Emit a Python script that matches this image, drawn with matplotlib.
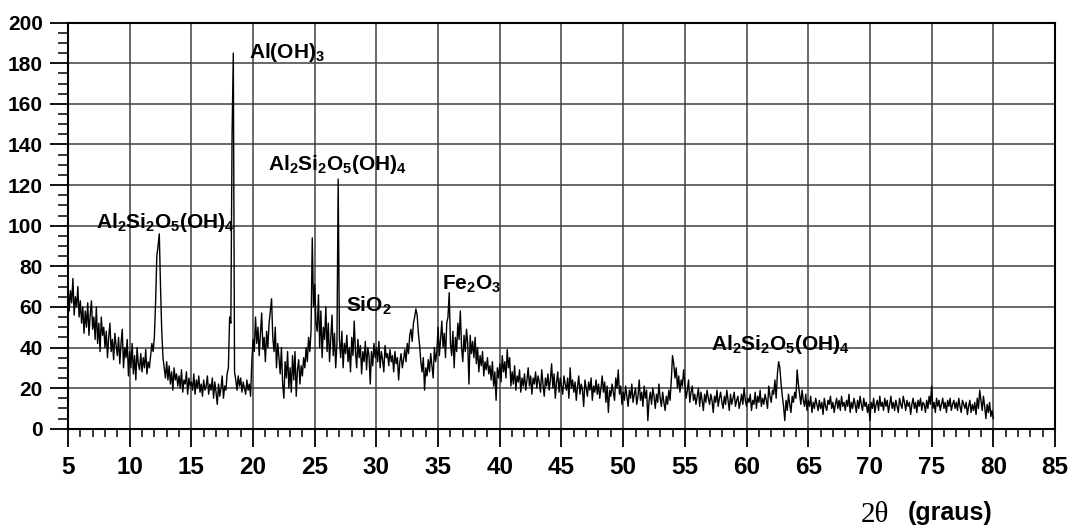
import numpy as np
import matplotlib
matplotlib.use("Agg")
import matplotlib.pyplot as plt
from matplotlib.ticker import MultipleLocator

plt.rcParams['font.family'] = ['Liberation Sans', 'DejaVu Sans']
plt.rcParams['font.weight'] = 'bold'
plt.rcParams['mathtext.fontset'] = 'custom'
plt.rcParams['mathtext.rm'] = 'Liberation Sans'
plt.rcParams['mathtext.bf'] = 'Liberation Sans:bold'

# 2-theta step of the scan (degrees)
two_theta = np.round(np.arange(5.0, 80.05, 0.1), 1)

# intensity, one row per degree (x.0 ... x.9)
intensity = [
    72, 58, 68, 62, 74, 56, 65, 60, 70, 55,   # 5
    63, 52, 60, 47, 58, 50, 62, 46, 56, 63,   # 6
    49, 55, 44, 60, 42, 52, 38, 55, 46, 50,   # 7
    40, 48, 35, 45, 52, 38, 44, 34, 47, 41,   # 8
    36, 45, 32, 42, 49, 30, 40, 35, 44, 26,   # 9
    38, 30, 42, 27, 36, 24, 40, 32, 29, 37,   # 10
    28, 35, 30, 39, 27, 33, 30, 36, 42, 38,   # 11
    45, 62, 85, 90, 96, 70, 48, 35, 30, 25,   # 12
    33, 24, 31, 22, 28, 19, 30, 24, 27, 21,   # 13
    26, 20, 29, 18, 24, 22, 28, 17, 25, 21,   # 14
    23, 19, 27, 17, 24, 20, 26, 18, 22, 16,   # 15
    24, 19, 21, 26, 17, 22, 19, 25, 15, 23,   # 16
    18, 12, 22, 16, 20, 26, 15, 21, 19, 27,   # 17
    30, 55, 52, 145, 185, 28, 24, 19, 26, 21,  # 18
    25, 18, 23, 20, 17, 24, 19, 22, 16, 33,   # 19
    44, 38, 55, 42, 50, 36, 47, 57, 39, 45,   # 20
    33, 48, 40, 52, 58, 64, 45, 38, 50, 30,   # 21
    42, 35, 27, 40, 22, 15, 33, 25, 38, 20,   # 22
    30, 18, 36, 24, 38, 16, 29, 34, 22, 31,   # 23
    26, 35, 30, 40, 33, 45, 38, 48, 94, 60,   # 24
    71, 52, 48, 66, 40, 58, 35, 50, 44, 60,   # 25
    38, 52, 33, 45, 56, 36, 47, 30, 42, 123,  # 26
    44, 35, 48, 30, 42, 37, 46, 33, 40, 28,   # 27
    45, 36, 53, 38, 30, 44, 35, 41, 27, 38,   # 28
    33, 43, 29, 40, 36, 22, 38, 31, 42, 35,   # 29
    40, 33, 43, 30, 38, 34, 28, 41, 35, 37,   # 30
    31, 39, 33, 36, 28, 38, 32, 35, 24, 33,   # 31
    37, 30, 34, 39, 33, 42, 37, 46, 49, 43,   # 32
    52, 55, 59, 56, 47, 41, 33, 28, 35, 19,   # 33
    30, 26, 34, 28, 37, 31, 25, 40, 33, 38,   # 34
    50, 36, 44, 53, 40, 47, 35, 52, 55, 67,   # 35
    42, 36, 48, 30, 45, 38, 52, 44, 58, 40,   # 36
    33, 46, 38, 49, 42, 22, 46, 37, 43, 35,   # 37
    45, 32, 40, 28, 36, 31, 38, 26, 33, 29,   # 38
    35, 27, 31, 24, 33, 21, 28, 14, 30, 25,   # 39
    32, 23, 36, 28, 33, 25, 39, 30, 35, 21,   # 40
    28, 22, 31, 19, 26, 23, 29, 18, 25, 21,   # 41
    27, 19, 24, 30, 21, 26, 17, 25, 22, 28,   # 42
    20, 26, 23, 18, 29, 22, 16, 25, 21, 27,   # 43
    19, 24, 32, 20, 27, 15, 23, 28, 18, 25,   # 44
    21, 17, 26, 22, 19, 25, 15, 30, 20, 24,   # 45
    18, 23, 14, 21, 26, 17, 22, 19, 11, 24,   # 46
    20, 16, 23, 19, 25, 14, 21, 18, 24, 17,   # 47
    22, 15, 20, 26, 18, 23, 13, 21, 8, 19,    # 48
    16, 22, 18, 14, 25, 20, 29, 17, 21, 12,   # 49
    18, 14, 21, 16, 11, 19, 15, 22, 13, 17,   # 50
    20, 12, 16, 24, 14, 18, 11, 21, 15, 19,   # 51
    4, 14, 18, 12, 20, 16, 10, 17, 13, 22,    # 52
    15, 11, 18, 13, 9, 16, 12, 19, 14, 24,    # 53
    36, 32, 25, 30, 20, 26, 18, 24, 21, 29,   # 54
    22, 15, 19, 24, 13, 18, 21, 14, 17, 12,   # 55
    16, 20, 11, 18, 14, 9, 17, 13, 19, 15,    # 56
    12, 17, 14, 8, 16, 13, 19, 11, 15, 18,    # 57
    13, 10, 16, 12, 19, 14, 9, 17, 12, 15,    # 58
    18, 11, 14, 16, 10, 13, 17, 12, 20, 14,   # 59
    11, 15, 13, 17, 9, 14, 12, 18, 10, 16,    # 60
    13, 19, 11, 15, 12, 17, 14, 10, 21, 16,   # 61
    13, 19, 17, 24, 15, 27, 33, 30, 22, 16,   # 62
    11, 4, 14, 9, 17, 12, 8, 16, 13, 18,      # 63
    15, 29, 22, 17, 12, 19, 14, 11, 17, 9,    # 64
    14, 11, 16, 8, 13, 10, 15, 12, 9, 14,     # 65
    10, 13, 7, 15, 11, 9, 14, 12, 16, 10,     # 66
    13, 8, 12, 15, 10, 14, 9, 16, 11, 13,     # 67
    9, 14, 11, 17, 8, 13, 10, 15, 12, 8,      # 68
    14, 10, 16, 12, 9, 15, 11, 13, 8, 12,     # 69
    4, 13, 10, 15, 8, 12, 14, 9, 16, 11,      # 70
    13, 9, 15, 11, 14, 8, 12, 16, 10, 13,     # 71
    9, 14, 11, 8, 15, 12, 10, 16, 13, 9,      # 72
    14, 11, 13, 7, 12, 15, 10, 13, 8, 14,     # 73
    11, 15, 9, 13, 12, 8, 14, 10, 16, 12,     # 74
    21, 10, 13, 8, 15, 11, 14, 9, 12, 15,     # 75
    10, 13, 8, 14, 11, 15, 9, 12, 14, 10,     # 76
    13, 9, 15, 11, 8, 14, 12, 10, 13, 7,      # 77
    11, 14, 8, 12, 9, 13, 7, 15, 10, 19,      # 78
    14, 9, 16, 11, 5, 12, 8, 13, 6, 9,        # 79
    5,                                        # 80
]

# phase labels and where they sit (2theta, intensity)
phase_labels = [r'$\mathbf{Al_2Si_2O_5(OH)_4}$', r'$\mathbf{Al(OH)_3}$',
                r'$\mathbf{Al_2Si_2O_5(OH)_4}$', r'$\mathbf{SiO_2}$',
                r'$\mathbf{Fe_2O_3}$', r'$\mathbf{Al_2Si_2O_5(OH)_4}$']
label_x = [7.27, 19.67, 21.23, 27.53, 35.28, 57.08]
label_y = [98.8, 182.6, 127.3, 57.6, 68.7, 38.8]

fig = plt.figure(figsize=(10.74, 5.30), dpi=100)
ax = fig.add_axes([0.0633, 0.1911, 0.919, 0.7661])

ax.plot(two_theta, intensity, color='black', linewidth=1.0)

ax.set_xlim(5, 85)
ax.set_ylim(0, 200)
ax.xaxis.set_major_locator(MultipleLocator(5))
ax.xaxis.set_minor_locator(MultipleLocator(1))
ax.yaxis.set_major_locator(MultipleLocator(20))
ax.yaxis.set_minor_locator(MultipleLocator(5))
ax.grid(True, which='major', color='#404040', linewidth=1.1)
ax.set_axisbelow(True)

ax.tick_params(axis='x', which='major', direction='out', length=13, width=1.3,
               labelsize=17.5, pad=7)
ax.tick_params(axis='x', which='minor', direction='out', length=6, width=1.1)
ax.tick_params(axis='y', which='major', direction='out', length=13, width=1.3,
               labelsize=15, pad=5)
ax.tick_params(axis='y', which='minor', direction='out', length=7, width=1.1)
for lab in ax.get_xticklabels() + ax.get_yticklabels():
    lab.set_fontweight('bold')
for sp in ax.spines.values():
    sp.set_linewidth(1.5)

for txt, lx, ly in zip(phase_labels, label_x, label_y):
    ax.text(lx, ly, txt, fontsize=15, ha='left', va='baseline')

fig.text(861 / 1074, (530 - 522) / 530, '2θ', family='Liberation Serif',
         fontweight='normal', fontsize=21, va='baseline')
fig.text(908 / 1074, (530 - 520) / 530, '(graus)', fontsize=18,
         fontweight='bold', va='baseline')

fig.savefig('out.png', dpi=100)
